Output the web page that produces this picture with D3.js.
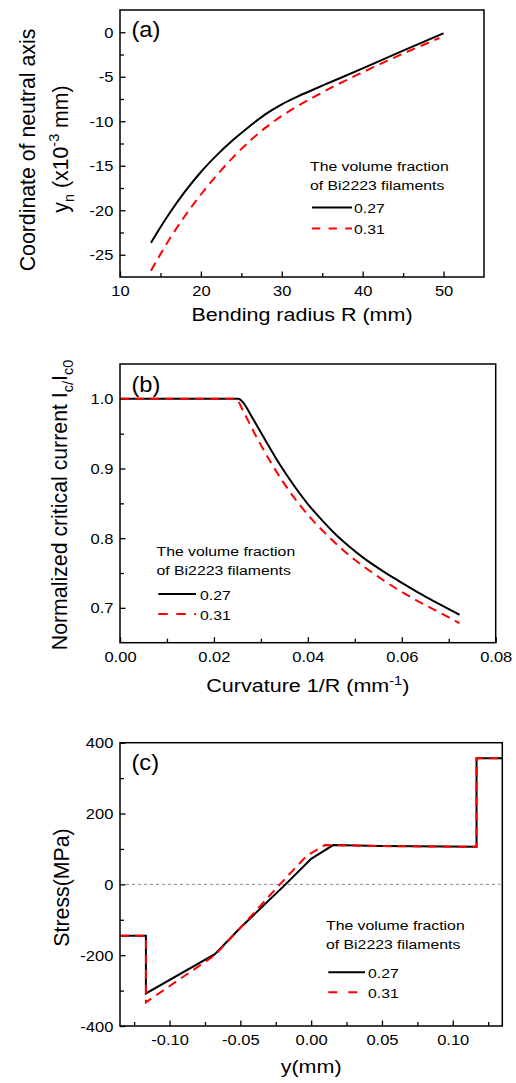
<!DOCTYPE html>
<html><head><meta charset="utf-8">
<script src="https://cdn.jsdelivr.net/npm/d3@7"></script>
<style>
body{margin:0;background:#fff}
svg{display:block}
text{font-family:"Liberation Sans",Arial,sans-serif;fill:#000}
</style>
</head><body>
<svg id="chart" width="516" height="1083"></svg>
<script>
// ---------- DATA ----------
// Panel (a): coordinate of neutral axis vs bending radius
const aR_027 = [13.83, 15, 16, 18, 20, 22, 24, 26, 28, 30, 32, 34, 36, 40, 45, 50];
const aYn_027 = [-23.65, -21.9, -20.5, -17.94, -15.7, -13.78, -12.08, -10.58, -9.2, -8.1, -7.2, -6.4, -5.62, -4.06, -2.06, -0.11];
const aR_031 = [13.83, 15, 16, 18, 20, 22, 24, 26, 28, 30, 32, 34, 36, 40, 45, 49.5];
const aYn_031 = [-26.8, -24.93, -23.43, -20.68, -18.23, -16.03, -14.03, -12.26, -10.72, -9.4, -8.28, -7.26, -6.28, -4.5, -2.4, -0.65];
// Panel (b): normalized critical current vs curvature
const bK_027 = [0, 0.0252, 0.0262, 0.0280, 0.0310, 0.0340, 0.0370, 0.0400, 0.0430, 0.0460, 0.0490, 0.0520, 0.0550, 0.0580, 0.0610, 0.0640, 0.0670, 0.0723];
const bI_027 = [1.0, 1.0, 0.995, 0.975, 0.940, 0.906, 0.876, 0.849, 0.826, 0.805, 0.787, 0.771, 0.757, 0.744, 0.732, 0.720, 0.709, 0.690];
const bK_031 = [0, 0.0244, 0.0252, 0.0262, 0.0290, 0.0320, 0.0350, 0.0380, 0.0410, 0.0440, 0.0470, 0.0500, 0.0530, 0.0560, 0.0590, 0.0620, 0.0650, 0.0680, 0.0723];
const bI_031 = [1.0, 1.0, 0.996, 0.983, 0.946, 0.910, 0.878, 0.850, 0.826, 0.805, 0.786, 0.769, 0.754, 0.740, 0.727, 0.715, 0.704, 0.6935, 0.678];
// Panel (c): stress vs y
const cY_027 = [-0.135, -0.1167, -0.1167, -0.068, -0.0498, -0.0181, 0.0, 0.0155, 0.05, 0.1168, 0.1168, 0.135];
const cS_027 = [-145, -145, -308, -197, -122, 0, 72, 111, 108, 106, 356, 356];
const cY_031 = [-0.135, -0.1167, -0.1167, -0.068, -0.0498, -0.0221, -0.0033, 0.0097, 0.05, 0.1168, 0.1168, 0.135];
const cS_031 = [-145, -145, -333, -200, -122, 0, 80, 111, 108, 106, 356, 356];
// Ticks
const aXTicks = [10, 20, 30, 40, 50], aXMinor = [15, 25, 35, 45];
const aYTicks = [0, -5, -10, -15, -20, -25], aYMinor = [-2.5, -7.5, -12.5, -17.5, -22.5];
const bXTicks = [0, 0.02, 0.04, 0.06, 0.08], bXMinor = [0.01, 0.03, 0.05, 0.07];
const bYTicks = [0.7, 0.8, 0.9, 1.0], bYMinor = [0.75, 0.85, 0.95];
const cXTicks = [-0.10, -0.05, 0, 0.05, 0.10], cXMinor = [-0.125, -0.075, -0.025, 0.025, 0.075, 0.125];
const cYTicks = [-400, -200, 0, 200, 400], cYMinor = [-300, -100, 100, 300];
const legendTitle = ["The volume fraction", "of Bi2223 filaments"];
const seriesNames = ["0.27", "0.31"];

// ---------- DRAW ----------
const svg = d3.select("#chart");

function richText(g, parts, size) {
  const t = g.append("text").style("font-size", size + "px");
  let shift = 0;
  parts.forEach(([s, kind]) => {
    let target = 0;
    if (kind === "sub") target = size * 0.28;
    if (kind === "sup") target = -size * 0.38;
    const sp = t.append("tspan").text(s).attr("dy", target - shift);
    if (kind) sp.style("font-size", (size * 0.68) + "px");
    shift = target;
  });
  return t;
}

function panel(cfg) {
  const g = svg.append("g");
  const x = d3.scaleLinear().domain(cfg.xDomain).range([cfg.x0, cfg.x1]);
  const y = d3.scaleLinear().domain(cfg.yDomain).range([cfg.y1, cfg.y0]);

  const gxm = g.append("g").attr("transform", `translate(0,${cfg.y1})`)
    .call(d3.axisBottom(x).tickValues(cfg.xMinor).tickSize(-4).tickSizeOuter(0).tickFormat(""));
  const gym = g.append("g").attr("transform", `translate(${cfg.x0},0)`)
    .call(d3.axisLeft(y).tickValues(cfg.yMinor).tickSize(-4).tickSizeOuter(0).tickFormat(""));
  const gx = g.append("g").attr("transform", `translate(0,${cfg.y1})`)
    .call(d3.axisBottom(x).tickValues(cfg.xTicks).tickSize(-5.5).tickSizeOuter(0).tickFormat(cfg.xFmt));
  const gy = g.append("g").attr("transform", `translate(${cfg.x0},0)`)
    .call(d3.axisLeft(y).tickValues(cfg.yTicks).tickSize(-5.5).tickSizeOuter(0).tickFormat(cfg.yFmt));
  [gxm, gym, gx, gy].forEach(a => {
    a.select(".domain").remove();
    a.attr("font-family", null).attr("font-size", null);
    a.selectAll("line").attr("stroke-width", 1.3);
  });
  gx.selectAll("text").attr("y", 19).attr("dy", null)
    .attr("transform", "scale(1.18,1)").style("font-size", "14px");
  gy.selectAll("text").attr("x", -5.6).attr("dy", "0.36em")
    .attr("transform", "scale(1.18,1)").style("font-size", "14px");

  if (cfg.zeroLine) {
    g.append("line").attr("x1", cfg.x0 + 6).attr("x2", cfg.x1 - 2)
      .attr("y1", y(0)).attr("y2", y(0))
      .attr("stroke", "#8a8a8a").attr("stroke-width", 1).attr("stroke-dasharray", "3,3");
  }

  const line = d3.line().x(d => x(d[0])).y(d => y(d[1])).curve(cfg.curve);
  cfg.series.forEach((s, i) => {
    const pts = s.xs.map((v, j) => [v, s.ys[j]]);
    g.append("path").attr("d", line(pts)).attr("fill", "none")
      .attr("stroke", i === 0 ? "#000" : "#ff0000").attr("stroke-width", 2)
      .attr("stroke-dasharray", i === 0 ? null : "9,6");
  });

  g.append("rect").attr("x", cfg.x0).attr("y", cfg.y0)
    .attr("width", cfg.x1 - cfg.x0).attr("height", cfg.y1 - cfg.y0)
    .attr("fill", "none").attr("stroke", "#000").attr("stroke-width", 1.5);

  g.append("text").text(cfg.label)
    .attr("transform", `translate(${cfg.x0 + 11.5},${cfg.labelY}) scale(1.1,1)`)
    .style("font-size", "21.5px");

  const L = cfg.legend;
  legendTitle.forEach((t, i) => {
    g.append("text").text(t)
      .attr("transform", `translate(${L.tx},${L.ty + i * 19}) scale(1.17,1)`)
      .style("font-size", "13.5px");
  });
  seriesNames.forEach((n, i) => {
    const ly = i === 0 ? L.y1 : L.y2;
    g.append("line").attr("x1", L.lx0).attr("x2", L.lx1).attr("y1", ly).attr("y2", ly)
      .attr("stroke", i === 0 ? "#000" : "#ff0000").attr("stroke-width", 2)
      .attr("stroke-dasharray", i === 0 ? null : L.dash);
    g.append("text").text(n)
      .attr("transform", `translate(${L.labX},${ly + 5.5}) scale(1.17,1)`)
      .style("font-size", "13.5px");
  });

  const xt = richText(g, cfg.xTitle, 17.5);
  xt.attr("text-anchor", "middle")
    .attr("transform", `translate(${(cfg.x0 + cfg.x1) / 2},${cfg.xTitleY}) scale(1.23,1)`);
  cfg.yTitles.forEach(yt => {
    const t = richText(g, yt.parts, 21.3);
    t.attr("text-anchor", "middle")
      .attr("transform", `translate(${yt.x},${yt.cy}) rotate(-90) scale(1,1.06)`);
  });
}

const fmtPlain = v => String(v);

panel({
  x0: 120, x1: 484, y0: 10, y1: 277,
  xDomain: [10, 55], yDomain: [-27.5, 2.5],
  xTicks: aXTicks, xMinor: aXMinor, yTicks: aYTicks, yMinor: aYMinor,
  xFmt: fmtPlain, yFmt: fmtPlain,
  curve: d3.curveMonotoneX,
  series: [{xs: aR_027, ys: aYn_027}, {xs: aR_031, ys: aYn_031}],
  label: "(a)", labelY: 36.5,
  legend: {tx: 310, ty: 170.5, lx0: 312, lx1: 352, y1: 207.5, y2: 228.5, labX: 354, dash: "8.3,8.3"},
  xTitle: [["Bending radius R (mm)", null]], xTitleY: 320.5,
  yTitles: [
    {x: 35, cy: 150, parts: [["Coordinate of neutral axis", null]]},
    {x: 68, cy: 149, parts: [["y", null], ["n", "sub"], [" (x10", null], ["-3", "sup"], [" mm)", null]]}
  ]
});

panel({
  x0: 120, x1: 495.7, y0: 364, y1: 642.7,
  xDomain: [0, 0.08], yDomain: [0.65, 1.05],
  xTicks: bXTicks, xMinor: bXMinor, yTicks: bYTicks, yMinor: bYMinor,
  xFmt: d3.format(".2f"), yFmt: d3.format(".1f"),
  curve: d3.curveMonotoneX,
  series: [{xs: bK_027, ys: bI_027}, {xs: bK_031, ys: bI_031}],
  label: "(b)", labelY: 392,
  legend: {tx: 156.5, ty: 555.5, lx0: 158.3, lx1: 196, y1: 594, y2: 614, labX: 200, dash: "9.5,8.5"},
  xTitle: [["Curvature 1/R (mm", null], ["-1", "sup"], [")", null]], xTitleY: 691.7,
  yTitles: [
    {x: 66.5, cy: 505, parts: [["Normalized critical current I", null], ["c/", "sub"], ["I", null], ["c0", "sub"]]}
  ]
});

panel({
  x0: 120, x1: 502.3, y0: 742.7, y1: 1026,
  xDomain: [-0.135, 0.135], yDomain: [-400, 400],
  xTicks: cXTicks, xMinor: cXMinor, yTicks: cYTicks, yMinor: cYMinor,
  xFmt: v => v.toFixed(2), yFmt: fmtPlain,
  curve: d3.curveLinear, zeroLine: true,
  series: [{xs: cY_027, ys: cS_027}, {xs: cY_031, ys: cS_031}],
  label: "(c)", labelY: 770,
  legend: {tx: 326, ty: 930, lx0: 328.3, lx1: 365, y1: 972.3, y2: 992.3, labX: 368, dash: "9,11"},
  xTitle: [["y(mm)", null]], xTitleY: 1072.7,
  yTitles: [
    {x: 68.5, cy: 887.5, parts: [["Stress(MPa)", null]]}
  ]
});
</script>
</body></html>
